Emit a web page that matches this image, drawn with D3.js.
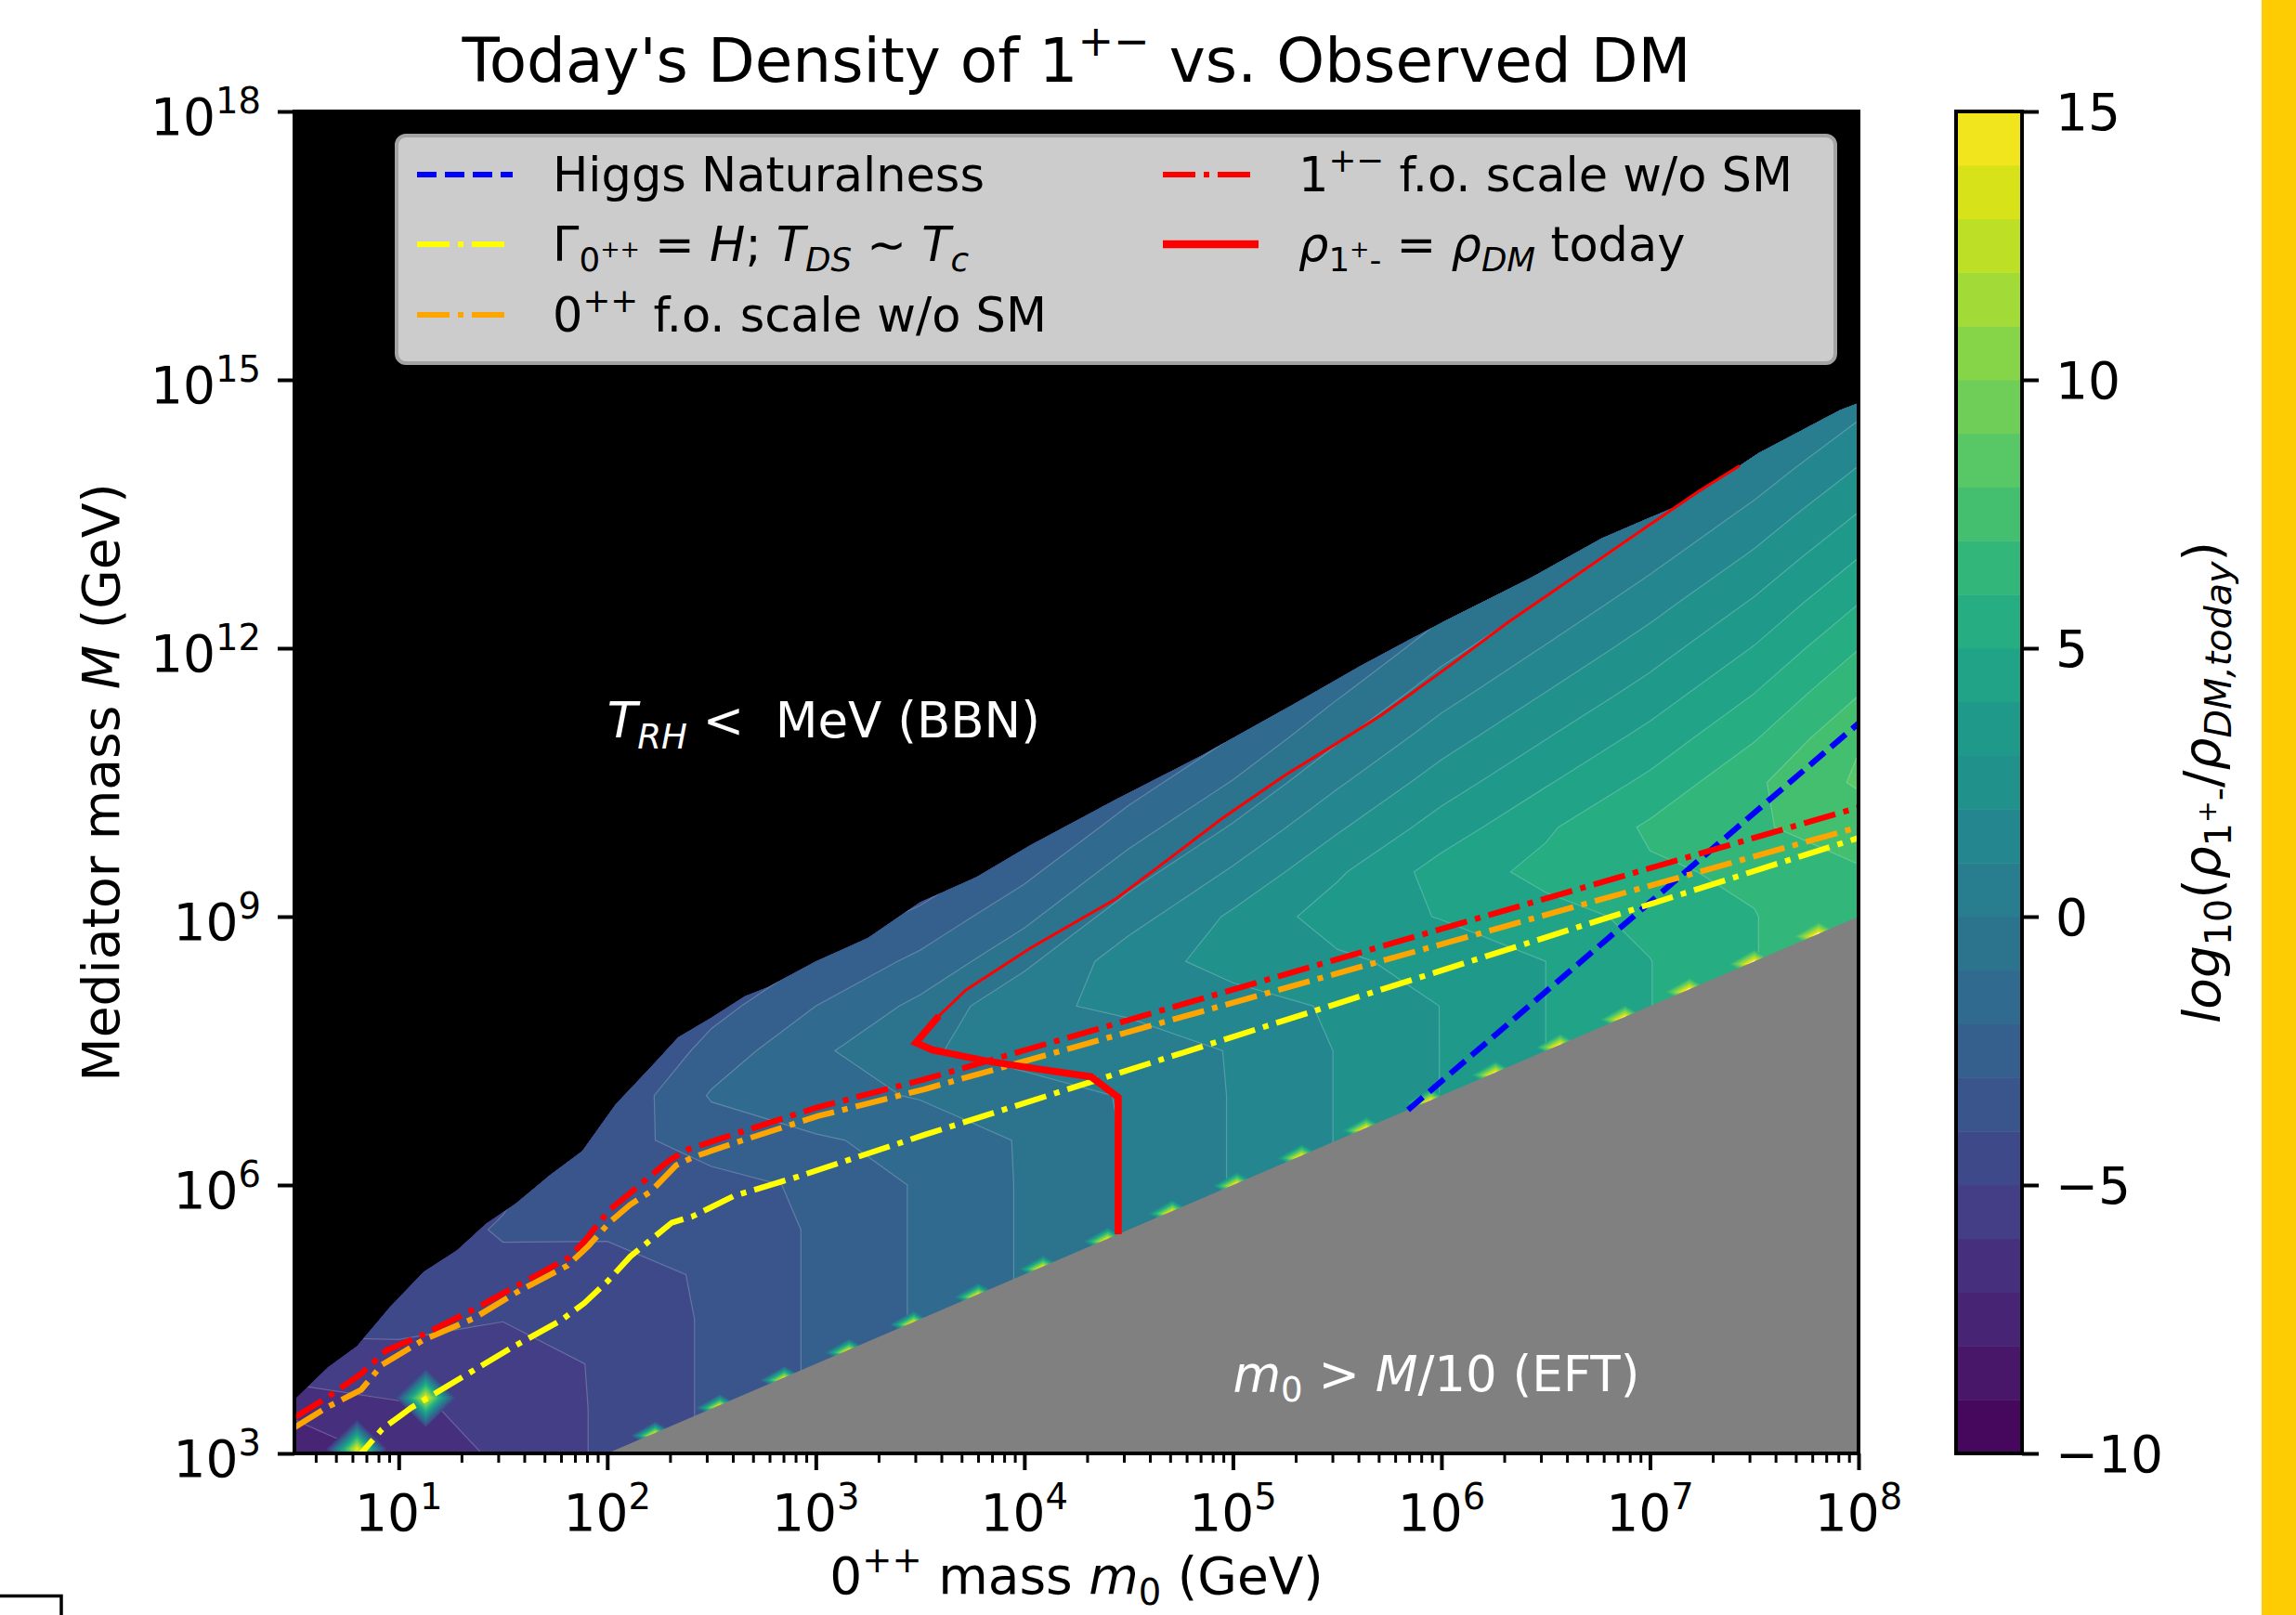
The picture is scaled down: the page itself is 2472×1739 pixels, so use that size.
<!DOCTYPE html>
<html>
<head>
<meta charset="utf-8">
<script src="https://cdnjs.cloudflare.com/ajax/libs/d3/7.8.5/d3.min.js"></script>
<style>
body { margin: 0; background: #fff; }
text { font-family: "DejaVu Sans", sans-serif; white-space: pre; }
</style>
</head>
<body>
<svg id="chart" width="2472" height="1739"></svg>
<script>
// ---- data (all masses as log10 of GeV) ----

// grid columns: log10(m0), grid rows: log10(M)
var gridLogM0 = [0.5, 1.0, 1.5, 2.0, 2.5, 3.0, 3.5, 4.0, 4.5, 5.0, 5.5, 6.0, 6.5, 7.0, 7.5, 8.0];
var gridLogM = [3.0, 3.5, 4.0, 4.5, 5.0, 5.5, 6.0, 6.5, 7.0, 7.5, 8.0, 8.5, 9.0, 9.5, 10.0,
                10.5, 11.0, 11.5, 12.0, 12.5, 13.0, 13.5, 14.0, 14.5, 15.0];

// log10(rho_1+- / rho_DM,today), one row per gridLogM value
var ratioGrid = [
  [-7.6, -6.78, -5.80, -4.82, -3.84, -2.86, -1.88, -0.90, 0.08, 1.06, 2.04, 3.02, 4.00, 4.98, 5.96, 6.94],
  [-6.8, -6.13, -5.80, -4.82, -3.84, -2.86, -1.88, -0.90, 0.08, 1.06, 2.04, 3.02, 4.00, 4.98, 5.96, 6.94],
  [-5.3, -5.40, -5.66, -4.82, -3.84, -2.86, -1.88, -0.90, 0.08, 1.06, 2.04, 3.02, 4.00, 4.98, 5.96, 6.94],
  [-4.8, -4.67, -4.96, -4.82, -3.84, -2.86, -1.88, -0.90, 0.08, 1.06, 2.04, 3.02, 4.00, 4.98, 5.96, 6.94],
  [-4.8, -4.30, -4.26, -4.49, -3.84, -2.86, -1.88, -0.90, 0.08, 1.06, 2.04, 3.02, 4.00, 4.98, 5.96, 6.94],
  [-5.5, -4.60, -3.90, -3.83, -3.84, -2.86, -1.88, -0.90, 0.08, 1.06, 2.04, 3.02, 4.00, 4.98, 5.96, 6.94],
  [-6.5, -5.50, -4.20, -3.17, -3.29, -2.86, -1.88, -0.90, 0.08, 1.06, 2.04, 3.02, 4.00, 4.98, 5.96, 6.94],
  [-7.5, -6.50, -5.00, -3.35, -2.59, -2.11, -1.72, -0.90, 0.08, 1.06, 2.04, 3.02, 4.00, 4.98, 5.96, 6.94],
  [-8.5, -7.50, -6.00, -3.90, -1.90, -1.35, -0.92, -0.43, 0.08, 1.06, 2.04, 3.02, 4.00, 4.98, 5.96, 6.94],
  [-9.5, -8.50, -7.00, -4.60, -2.60, -1.20, -0.11, 0.37, 0.45, 1.06, 2.04, 3.02, 4.00, 4.98, 5.96, 6.94],
  [-10, -9.50, -8.00, -5.60, -3.40, -2.00, -0.75, 0.80, 1.20, 1.63, 2.11, 3.02, 4.00, 4.98, 5.96, 6.94],
  [-10, -10, -9.00, -6.60, -4.20, -2.90, -1.75, -0.23, 1.59, 2.34, 2.81, 3.36, 4.00, 4.98, 5.96, 6.94],
  [-10, -10, -10, -7.60, -5.20, -3.80, -2.75, -1.26, 0.56, 2.18, 3.51, 4.05, 4.65, 5.23, 5.96, 6.94],
  [-10, -10, -10, -8.60, -6.20, -4.80, -3.75, -2.28, -0.47, 1.14, 2.85, 4.41, 5.30, 5.85, 6.18, 6.94],
  [-10, -10, -10, -9.60, -7.20, -5.80, -4.75, -3.31, -1.50, 0.10, 1.85, 3.45, 4.84, 6.17, 6.93, 7.29],
  [-10, -10, -10, -10, -8.20, -6.80, -5.75, -4.33, -2.53, -0.94, 0.85, 2.49, 3.90, 5.25, 6.84, 8.15],
  [-10, -10, -10, -10, -9.20, -7.80, -6.75, -5.36, -3.56, -1.98, -0.15, 1.53, 2.96, 4.34, 5.91, 7.92],
  [-10, -10, -10, -10, -10, -8.80, -7.75, -6.38, -4.59, -3.02, -1.15, 0.57, 2.02, 3.42, 4.99, 6.94],
  [-10, -10, -10, -10, -10, -9.80, -8.75, -7.41, -5.62, -4.06, -2.15, -0.39, 1.08, 2.51, 4.06, 5.97],
  [-10, -10, -10, -10, -10, -10, -9.75, -8.43, -6.65, -5.10, -3.15, -1.35, 0.14, 1.60, 3.14, 4.99],
  [-10, -10, -10, -10, -10, -10, -10, -9.46, -7.68, -6.14, -4.15, -2.31, -0.80, 0.68, 2.21, 4.02],
  [-10, -10, -10, -10, -10, -10, -10, -10, -8.71, -7.18, -5.15, -3.27, -1.74, -0.24, 1.29, 3.04],
  [-10, -10, -10, -10, -10, -10, -10, -10, -9.74, -8.22, -6.15, -4.23, -2.68, -1.15, 0.36, 2.07],
  [-10, -10, -10, -10, -10, -10, -10, -10, -10, -9.26, -7.15, -5.19, -3.62, -2.07, -0.56, 1.09],
  [-10, -10, -10, -10, -10, -10, -10, -10, -10, -10, -8.15, -6.15, -4.56, -2.98, -1.49, 0.12]
];

// contour levels and colorbar ticks
var levels = [-10, -9, -8, -7, -6, -5, -4, -3, -2, -1, 0, 1, 2, 3, 4, 5, 6, 7, 8, 9, 10, 11, 12, 13, 14, 15];
var cbarTicks = [-10, -5, 0, 5, 10, 15];
var xTickExp = [1, 2, 3, 4, 5, 6, 7, 8];
var yTickExp = [3, 6, 9, 12, 15, 18];

// upper edge of the computed region (T_RH = MeV)
var bbnEdge = [[0.50, 3.60], [0.66, 3.96], [0.80, 4.20], [0.96, 4.64], [1.12, 5.03], [1.28, 5.27],
  [1.42, 5.57], [1.56, 5.79], [1.72, 6.10], [1.88, 6.38], [2.04, 6.90], [2.23, 7.37], [2.34, 7.65],
  [2.50, 7.87], [2.66, 8.11], [2.77, 8.21], [3.00, 8.50], [3.25, 8.76], [3.50, 9.16], [3.77, 9.44],
  [4.03, 9.80], [4.44, 10.31], [4.85, 10.80], [5.28, 11.36], [5.61, 11.80], [6.02, 12.31],
  [6.43, 12.79], [6.77, 13.23], [7.16, 13.62], [7.52, 14.18], [7.91, 14.66], [8.00, 14.74]];

// EFT limit m0 = M/10
var eftLine = [[2.0, 3.0], [8.0, 9.0]];

// grid spikes: isolated nodes in the lower left, and along the EFT edge
var spikeSpots = [[1.13, 3.62], [0.80, 3.05]];
var eftTeeth = [2.20, 2.51, 2.82, 3.13, 3.44, 3.75, 4.06, 4.37, 4.68, 4.99, 5.30, 5.61, 5.92,
  6.23, 6.54, 6.85, 7.16, 7.47, 7.78];

// curves
var higgsLine = [[5.84, 6.84], [8.00, 11.16]];
var gammaLine = [[0.76, 2.92], [0.82, 3.00], [0.92, 3.27], [1.06, 3.51], [1.26, 3.79], [1.54, 4.18],
  [1.78, 4.49], [1.89, 4.68], [2.00, 4.92], [2.11, 5.20], [2.21, 5.39], [2.31, 5.58], [2.41, 5.65],
  [2.61, 5.88], [2.91, 6.09], [3.52, 6.56], [8.00, 9.88]];
var scalarFoLine = [[0.50, 3.29], [0.66, 3.52], [0.82, 3.71], [0.92, 3.99], [1.12, 4.27], [1.36, 4.51],
  [1.58, 4.82], [1.81, 5.10], [1.91, 5.32], [2.01, 5.58], [2.11, 5.78], [2.21, 5.93], [2.33, 6.22],
  [2.41, 6.31], [2.61, 6.47], [3.01, 6.77], [3.52, 7.07], [8.00, 10.00]];
var vectorFoLine = [[0.50, 3.40], [0.66, 3.63], [0.82, 3.89], [0.94, 4.15], [1.12, 4.33], [1.36, 4.61],
  [1.58, 4.89], [1.81, 5.18], [1.89, 5.37], [2.01, 5.72], [2.11, 5.91], [2.19, 6.07], [2.30, 6.28],
  [2.39, 6.40], [2.61, 6.57], [3.01, 6.87], [3.52, 7.18], [8.00, 10.22]];
var dmLineThick = [[3.59, 7.89], [3.48, 7.59], [3.56, 7.51], [3.81, 7.39], [4.00, 7.32], [4.32, 7.21],
  [4.45, 6.98], [4.45, 5.45]];
var dmLineThin = [[3.59, 7.89], [3.72, 8.18], [4.03, 8.65], [4.44, 9.20], [4.73, 9.71], [4.95, 10.10],
  [5.25, 10.58], [5.50, 10.94], [5.71, 11.25], [6.02, 11.77], [6.32, 12.29], [6.62, 12.77],
  [6.93, 13.27], [7.23, 13.75], [7.43, 14.04]];

// text positions in data coordinates (GeV)
var bbnLabelAt = [1e2, 1e11];
var eftLabelAt = [1e5, 5e3];

// ---- drawing ----
var W = 2472, H = 1739;
var plot = {left: 317, right: 2001, top: 120, bottom: 1565};
var FS = 55;        // ticks, axis labels
var FS_LEG = 51;    // legend
var FS_NOTE = 53;   // in-plot notes

var svg = d3.select("#chart");
svg.append("rect").attr("width", W).attr("height", H).attr("fill", "#fff");

var x = d3.scaleLog().domain([Math.pow(10, 0.5), 1e8]).range([plot.left, plot.right]);
var y = d3.scaleLog().domain([1e3, 1e18]).range([plot.bottom, plot.top]);
function px(l) { return x(Math.pow(10, l)); }
function py(l) { return y(Math.pow(10, l)); }

function bandColor(t) {
    if (t >= levels[levels.length - 1]) return "#ffffff";
    return d3.interpolateViridis((t + 0.5 - levels[0]) / (levels[levels.length - 1] - levels[0]));
}

// rich text helper for the mathtext-like labels
var styles = {
    n: {shift: 0, size: 1, it: false},
    i: {shift: 0, size: 1, it: true},
    sup: {shift: -0.42, size: 0.7, it: false},
    sub: {shift: 0.22, size: 0.7, it: false},
    subi: {shift: 0.22, size: 0.7, it: true},
    subsup: {shift: -0.08, size: 0.5, it: false}
};
function rich(sel, parts, size, subScale) {
    var cur = 0;
    var k = subScale || 1;
    parts.forEach(function(p) {
        var s = styles[p[1]];
        var sz = s.size < 1 ? s.size * k : 1;
        sel.append("tspan")
            .attr("dy", ((s.shift - cur) * size) + "px")
            .attr("font-size", (sz * size) + "px")
            .attr("font-style", s.it ? "italic" : "normal")
            .text(p[0]);
        cur = s.shift;
    });
    return sel;
}

var defs = svg.append("defs");
defs.append("clipPath").attr("id", "plotClip").append("rect")
    .attr("x", plot.left).attr("y", plot.top)
    .attr("width", plot.right - plot.left).attr("height", plot.bottom - plot.top);

var lineLog = d3.line().x(function(d) { return px(d[0]); }).y(function(d) { return py(d[1]); });
var wedge = bbnEdge.concat([[8.0, 3.0], [0.5, 3.0]]);
defs.append("clipPath").attr("id", "wedgeClip").append("path").attr("d", lineLog(wedge) + "Z");

// black background of the axes (T_RH < MeV region)
svg.append("rect")
    .attr("x", plot.left).attr("y", plot.top)
    .attr("width", plot.right - plot.left).attr("height", plot.bottom - plot.top)
    .attr("fill", "#000");

// filled contours
var nx = gridLogM0.length, ny = gridLogM.length;
var dlx = gridLogM0[1] - gridLogM0[0], dly = gridLogM[1] - gridLogM[0];
var flat = [];
ratioGrid.forEach(function(row) { row.forEach(function(v) { flat.push(v); }); });

var gridProj = d3.geoTransform({
    point: function(cx, cy) {
        this.stream.point(px(gridLogM0[0] + (cx - 0.5) * dlx), py(gridLogM[0] + (cy - 0.5) * dly));
    }
});
var bands = d3.contours().size([nx, ny]).thresholds(levels.slice(0, -1))(flat);

var gC = svg.append("g").attr("clip-path", "url(#wedgeClip)");
gC.selectAll("path.band")
    .data(bands)
    .enter().append("path")
        .attr("class", "band")
        .attr("d", d3.geoPath(gridProj))
        .attr("fill", function(d) { return bandColor(d.value); })
        .attr("stroke", "rgba(255,255,255,0.22)")
        .attr("stroke-width", 1.2);

// bilinear read of the grid, used as the base value of the spikes
function sampleGrid(lx, ly) {
    var fi = (lx - gridLogM0[0]) / dlx, fj = (ly - gridLogM[0]) / dly;
    var i = Math.max(0, Math.min(nx - 2, Math.floor(fi)));
    var j = Math.max(0, Math.min(ny - 2, Math.floor(fj)));
    var tx = fi - i, ty = fj - j;
    var g = ratioGrid;
    return (1 - tx) * (1 - ty) * g[j][i] + tx * (1 - ty) * g[j][i + 1] +
        (1 - tx) * ty * g[j + 1][i] + tx * ty * g[j + 1][i + 1];
}

function drawSpike(g, lx, ly, peak, hx, hy) {
    var bg = sampleGrid(lx, ly);
    var vals = [bg, bg, bg, bg, peak, bg, bg, bg, bg];
    var th = levels.filter(function(t) { return t > bg && t <= peak; });
    var cs = d3.contours().size([3, 3]).thresholds(th)(vals);
    var proj = d3.geoTransform({
        point: function(cx, cy) {
            this.stream.point(px(lx + (cx - 1.5) * hx), py(ly + (cy - 1.5) * hy));
        }
    });
    g.selectAll(null).data(cs).enter().append("path")
        .attr("d", d3.geoPath(proj))
        .attr("fill", function(d) { return bandColor(d.value); });
}

spikeSpots.forEach(function(s) { drawSpike(gC, s[0], s[1], 14.8, 0.15, 0.34); });
eftTeeth.forEach(function(l) { drawSpike(gC, l + 0.03, l + 1, 18, 0.12, 0.16); });

// EFT excluded region
var eftPoly = eftLine.concat([[8.0, 3.0]]);
svg.append("path").attr("d", lineLog(eftPoly) + "Z").attr("fill", "#808080");

// curves
var gL = svg.append("g").attr("clip-path", "url(#plotClip)");
gL.append("path").attr("d", lineLog(dmLineThin))
    .attr("fill", "none").attr("stroke", "#ff0000").attr("stroke-width", 3);

var series = [
    {data: higgsLine, color: "#0000ff", dash: "21,9", width: 6.2},
    {data: gammaLine, color: "#ffff00", dash: "35,9,6,9", width: 6.2},
    {data: scalarFoLine, color: "#ffa500", dash: "35,9,6,9", width: 6.2},
    {data: vectorFoLine, color: "#ff0000", dash: "35,9,6,9", width: 6.2},
    {data: dmLineThick, color: "#ff0000", dash: null, width: 7.5}
];
series.forEach(function(s) {
    gL.append("path").attr("d", lineLog(s.data))
        .attr("fill", "none").attr("stroke", s.color)
        .attr("stroke-width", s.width)
        .attr("stroke-dasharray", s.dash);
});

// in-plot labels
rich(svg.append("text").attr("x", x(bbnLabelAt[0])).attr("y", y(bbnLabelAt[1])).attr("fill", "#fff"),
    [["T", "i"], ["RH", "subi"], [" <  MeV (BBN)", "n"]], FS_NOTE);
rich(svg.append("text").attr("x", x(eftLabelAt[0])).attr("y", y(eftLabelAt[1])).attr("fill", "#fff"),
    [["m", "i"], ["0", "sub"], [" > ", "n"], ["M", "i"], ["/10 (EFT)", "n"]], FS_NOTE);

// legend
var leg = svg.append("g");
leg.append("rect").attr("x", 427).attr("y", 146).attr("width", 1549).attr("height", 245)
    .attr("rx", 10).attr("fill", "#cccccc").attr("stroke", "#a3a3a3").attr("stroke-width", 4);
var legendItems = [
    {s: series[0], col: 0, row: 0, parts: [["Higgs Naturalness", "n"]]},
    {s: series[1], col: 0, row: 1, parts: [["\u0393", "n"], ["0", "sub"], ["++", "subsup"], [" = ", "n"],
        ["H", "i"], ["; ", "n"], ["T", "i"], ["DS", "subi"], [" \u223C ", "n"], ["T", "i"], ["c", "subi"]]},
    {s: series[2], col: 0, row: 2, parts: [["0", "n"], ["++", "sup"], [" f.o. scale w/o SM", "n"]]},
    {s: series[3], col: 1, row: 0, parts: [["1", "n"], ["+\u2212", "sup"], [" f.o. scale w/o SM", "n"]]},
    {s: series[4], col: 1, row: 1, parts: [["\u03C1", "i"], ["1", "sub"], ["+", "subsup"], ["-", "sub"],
        [" = ", "n"], ["\u03C1", "i"], ["DM", "subi"], [" today", "n"]]}
];
var colX = [449, 1252], rowY = [188, 263, 339];
legendItems.forEach(function(it) {
    var x0 = colX[it.col], yy = rowY[it.row];
    leg.append("line").attr("x1", x0).attr("x2", x0 + 103).attr("y1", yy).attr("y2", yy)
        .attr("stroke", it.s.color).attr("stroke-width", it.s.dash ? 6 : 8.5)
        .attr("stroke-dasharray", it.s.dash);
    rich(leg.append("text").attr("x", x0 + 146).attr("y", yy + 18).attr("fill", "#000"), it.parts, FS_LEG);
});

// axes ticks
var xAxisMajor = d3.axisBottom(x).tickValues(xTickExp.map(function(e) { return Math.pow(10, e); }))
    .tickSize(18).tickFormat("");
var minorVals = x.ticks().filter(function(v) {
    var l = Math.log10(v);
    return Math.abs(l - Math.round(l)) > 1e-6;
});
var xAxisMinor = d3.axisBottom(x).tickValues(minorVals).tickSize(10).tickFormat("");
var gx1 = svg.append("g").attr("transform", "translate(0," + plot.bottom + ")").call(xAxisMajor);
var gx2 = svg.append("g").attr("transform", "translate(0," + plot.bottom + ")").call(xAxisMinor);
gx1.selectAll("line").attr("stroke-width", 4);
gx2.selectAll("line").attr("stroke-width", 3);
var yAxis = d3.axisLeft(y).tickValues(yTickExp.map(function(e) { return Math.pow(10, e); }))
    .tickSize(18).tickFormat("");
var gy = svg.append("g").attr("transform", "translate(" + plot.left + ",0)").call(yAxis);
gy.selectAll("line").attr("stroke-width", 4);
[gx1, gx2, gy].forEach(function(g) { g.select(".domain").remove(); });

xTickExp.forEach(function(e) {
    rich(svg.append("text").attr("x", x(Math.pow(10, e))).attr("y", plot.bottom + 83)
        .attr("text-anchor", "middle"), [["10", "n"], [String(e), "sup"]], FS);
});
yTickExp.forEach(function(e) {
    rich(svg.append("text").attr("x", plot.left - 36).attr("y", y(Math.pow(10, e)) + 25)
        .attr("text-anchor", "end"), [["10", "n"], [String(e), "sup"]], FS);
});

// spines
svg.append("rect")
    .attr("x", plot.left).attr("y", plot.top)
    .attr("width", plot.right - plot.left).attr("height", plot.bottom - plot.top)
    .attr("fill", "none").attr("stroke", "#000").attr("stroke-width", 4);

// axis labels and title
rich(svg.append("text").attr("x", (plot.left + plot.right) / 2).attr("y", 1716)
    .attr("text-anchor", "middle"),
    [["0", "n"], ["++", "sup"], [" mass ", "n"], ["m", "i"], ["0", "sub"], [" (GeV)", "n"]], FS);
rich(svg.append("text").attr("transform", "translate(128," + ((plot.top + plot.bottom) / 2) + ") rotate(-90)")
    .attr("text-anchor", "middle"),
    [["Mediator mass ", "n"], ["M", "i"], [" (GeV)", "n"]], FS);
rich(svg.append("text").attr("x", (plot.left + plot.right) / 2).attr("y", 88)
    .attr("text-anchor", "middle"),
    [["Today's Density of 1", "n"], ["+\u2212", "sup"], [" vs. Observed DM", "n"]], 66);

// colorbar
var cbar = {left: 2106, right: 2177};
var cy = d3.scaleLinear().domain([levels[0], levels[levels.length - 1]]).range([plot.bottom, plot.top]);
svg.append("g").selectAll("rect")
    .data(levels.slice(0, -1))
    .enter().append("rect")
        .attr("x", cbar.left).attr("width", cbar.right - cbar.left)
        .attr("y", function(t) { return cy(t + 1); })
        .attr("height", function(t) { return cy(t) - cy(t + 1) + 0.5; })
        .attr("fill", function(t) { return bandColor(t); });
svg.append("rect").attr("x", cbar.left).attr("y", plot.top)
    .attr("width", cbar.right - cbar.left).attr("height", plot.bottom - plot.top)
    .attr("fill", "none").attr("stroke", "#000").attr("stroke-width", 4);
var cAxis = d3.axisRight(cy).tickValues(cbarTicks).tickSize(18).tickPadding(18)
    .tickFormat(function(d) { return d < 0 ? "\u2212" + Math.abs(d) : String(d); });
var gcb = svg.append("g").attr("transform", "translate(" + cbar.right + ",0)").call(cAxis);
gcb.select(".domain").remove();
gcb.selectAll("line").attr("stroke-width", 4);
gcb.attr("font-size", null).attr("font-family", null);
gcb.selectAll("text").attr("font-size", FS + "px").attr("dy", "0.36em")
    .style("font-family", "'DejaVu Sans', sans-serif");

rich(svg.append("text").attr("transform", "translate(2390," + ((plot.top + plot.bottom) / 2) + ") rotate(-90)")
    .attr("text-anchor", "middle"),
    [["log", "i"], ["10", "sub"], ["(", "n"], ["\u03C1", "i"], ["1", "sub"], ["+", "subsup"], ["-", "sub"],
     ["/", "n"], ["\u03C1", "i"], ["DM,today", "subi"], [")", "n"]], FS, 1.03);

// page decorations at the edges of the screenshot
svg.append("rect").attr("x", 2435).attr("y", 0).attr("width", 37).attr("height", H).attr("fill", "#fecc02");
svg.append("path").attr("d", "M0,1718.5H66V1739").attr("fill", "none").attr("stroke", "#000").attr("stroke-width", 3.5);
</script>
</body>
</html>
